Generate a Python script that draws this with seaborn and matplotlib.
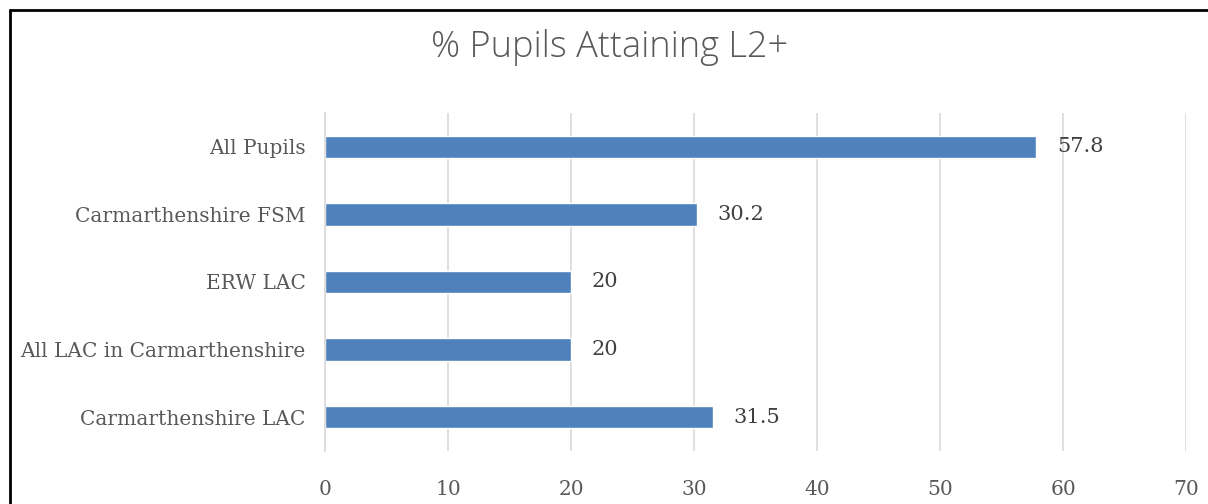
import matplotlib
matplotlib.use("Agg")
import matplotlib.pyplot as plt
import seaborn as sns
import pandas as pd
from matplotlib.lines import Line2D

# === DADOS ===
categorias = ["All Pupils", "Carmarthenshire FSM", "ERW LAC",
              "All LAC in Carmarthenshire", "Carmarthenshire LAC"]
valores = [57.8, 30.2, 20, 20, 31.5]
rotulos = ["57.8", "30.2", "20", "20", "31.5"]
ticks_x = [0, 10, 20, 30, 40, 50, 60, 70]

df = pd.DataFrame({"Categoria": categorias, "Valor": valores})

sns.set_style("white")
plt.rcParams["font.family"] = ["DejaVu Serif"]

fig = plt.figure(figsize=(12.08, 5.04), dpi=100)
ax = fig.add_axes([0.269, 0.105, 0.713, 0.671])

sns.barplot(data=df, y="Categoria", x="Valor", orient="h", color="#4f81bd",
            width=0.33, saturation=1, ax=ax)

ax.set_xlim(0, 70)
ax.set_xticks(ticks_x)
ax.set_xlabel("")
ax.set_ylabel("")
ax.grid(axis="x", color="#d9d9d9", linewidth=1.2)
ax.set_axisbelow(True)
for s in ["top", "right", "bottom"]:
    ax.spines[s].set_visible(False)
ax.spines["left"].set_color("#d9d9d9")
ax.spines["left"].set_linewidth(1.2)
ax.tick_params(axis="both", length=0, labelsize=14.5, labelcolor="#595959")
ax.tick_params(axis="x", pad=21)
ax.tick_params(axis="y", pad=14)

ax.bar_label(ax.containers[0], labels=rotulos, padding=15, fontsize=15, color="#404040")

fig.text(0.505, 0.905, "% Pupils Attaining L2+", ha="center", va="center",
         fontsize=26, color="#595959", family="Open Sans", fontweight="light")

# moldura
fig.add_artist(Line2D([10/1208, 10/1208], [0, 1 - 10/504], transform=fig.transFigure,
                      color="black", linewidth=2))
fig.add_artist(Line2D([10/1208, 1], [1 - 10/504, 1 - 10/504], transform=fig.transFigure,
                      color="black", linewidth=2))

fig.savefig("out.png", dpi=100)
